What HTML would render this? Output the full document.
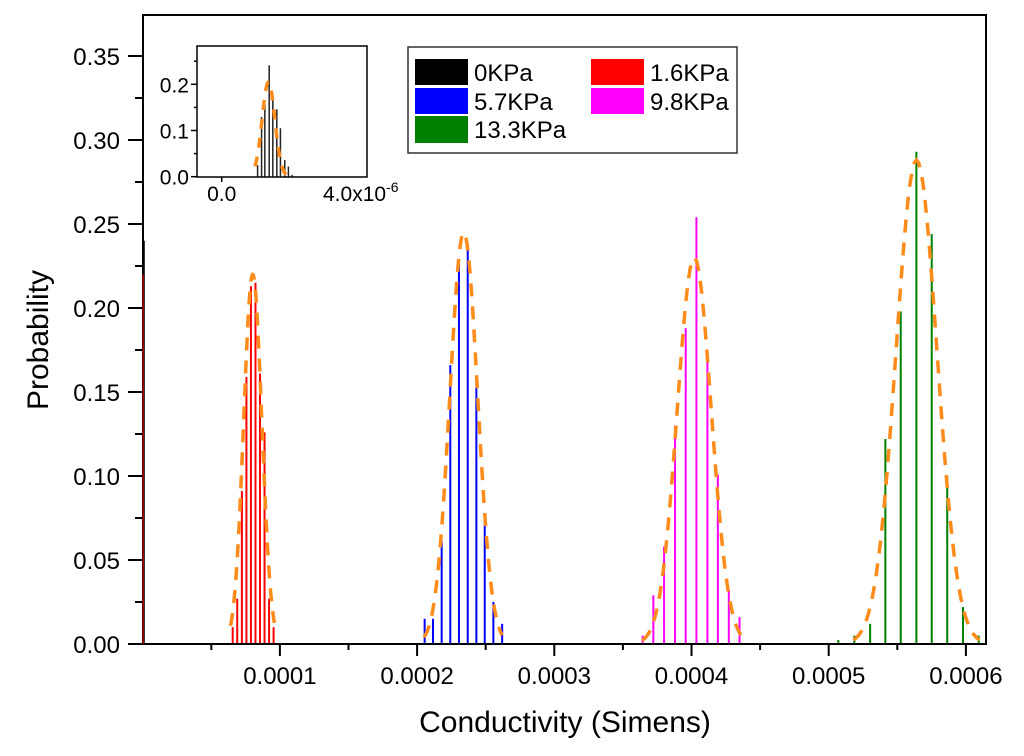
<!DOCTYPE html>
<html><head><meta charset="utf-8"><style>
html,body{margin:0;padding:0;background:#fff;}
svg{display:block;font-family:"Liberation Sans",Arial,sans-serif;}
</style></head><body>
<svg id="chart" width="1024" height="756" viewBox="0 0 1024 756" xmlns="http://www.w3.org/2000/svg">
<rect x="0" y="0" width="1024" height="756" fill="#fff"/>
<g id="marks"></g>
<g id="inset"></g>
<rect x="143" y="15" width="843" height="629" fill="none" stroke="#000" stroke-width="2"/>
<g id="axes"></g>
<text x="565" y="732" font-size="30" text-anchor="middle">Conductivity (Simens)</text>
<text transform="translate(48,340) rotate(-90)" font-size="30" text-anchor="middle">Probability</text>
<g>
<rect x="408" y="47" width="329" height="106" fill="#fff" stroke="#333" stroke-width="1.5"/>
<g><rect x="415" y="59" width="53" height="26" fill="#000"/><text x="474" y="81" font-size="24">0KPa</text></g>
<g><rect x="415" y="88" width="53" height="26" fill="#0000ff"/><text x="474" y="110" font-size="24">5.7KPa</text></g>
<g><rect x="415" y="116" width="53" height="27" fill="#008000"/><text x="474" y="138" font-size="24">13.3KPa</text></g>
<g><rect x="591" y="59" width="53" height="26" fill="#ff0000"/><text x="650" y="81" font-size="24">1.6KPa</text></g>
<g><rect x="591" y="88" width="53" height="26" fill="#ff00ff"/><text x="650" y="110" font-size="24">9.8KPa</text></g>
</g>
<g id="front"></g>
</svg>
<script>
// ---- data (conductivity in 1e-6 S, probability) ----
const redX = [65.6,68.9,72.3,75.6,78.9,82.2,85.5,88.8,92.1,95.4];
const redY = [0.010,0.027,0.091,0.159,0.213,0.215,0.161,0.126,0.027,0.010];
const blueX = [205.5,211.6,217.9,224.2,230.5,236.9,243.2,249.3,255.6,262.0];
const blueY = [0.015,0.015,0.061,0.166,0.227,0.235,0.159,0.077,0.025,0.012];
const magX = [364.4,372.2,380.0,388.0,395.8,403.6,411.6,419.2,427.2,435.0];
const magY = [0.005,0.029,0.058,0.130,0.188,0.254,0.171,0.101,0.032,0.016];
const greenX = [507.0,518.7,530.2,541.3,552.5,563.9,575.1,586.4,597.9,609.3];
const greenY = [0.0024,0.005,0.012,0.122,0.198,0.293,0.244,0.100,0.022,0.005];
const zeroX = [0.6, 0.3];
const zeroY = [0.240, 0.220];
// gaussian fit parameters [amplitude, center, sigma, from, to]
const redFit = [0.220, 80.2, 6.6, 64, 96];
const blueFit = [0.245, 234.0, 10.1, 205, 262];
const magFit = [0.230, 402.0, 12.4, 364, 436];
const greenFit = [0.288, 564.0, 14.9, 518, 610];
// inset data (1e-6 S)
const insetX = [0.99,1.10,1.19,1.31,1.41,1.52,1.62,1.74,1.84,1.94];
const insetY = [0.025,0.129,0.157,0.241,0.172,0.146,0.105,0.036,0.022,0.004];
const insetFit = [0.205, 1.29, 0.176, 0.92, 1.92];
const xTicks = [100,200,300,400,500,600];
const xTickLabels = ["0.0001","0.0002","0.0003","0.0004","0.0005","0.0006"];
const yTicks = [0,0.05,0.10,0.15,0.20,0.25,0.30,0.35];
const yTickLabels = ["0.00","0.05","0.10","0.15","0.20","0.25","0.30","0.35"];

const NS="http://www.w3.org/2000/svg";
const X = v => 142.7 + v*1.372;
const Y = p => 644 - p*1680;
const IX = v => 221.7 + v*36.25;
const IY = p => 176.7 - p*462;
function mk(tag, attrs, parent){const e=document.createElementNS(NS,tag);for(const k in attrs)e.setAttribute(k,attrs[k]);parent.appendChild(e);return e;}
const marks=document.getElementById('marks');
const front=document.getElementById('front');
function bars(xs,ys,color,name,fx,fy,parent,w){
  xs.forEach((x,i)=>{
    const l=mk('line',{x1:fx(x),x2:fx(x),y1:fy(0),y2:fy(ys[i]),stroke:color,'stroke-width':w},parent);
    
    
  });
}
function fit(p,name,fx,fy,parent,w,dash){
  let d='';
  for(let i=0;i<=60;i++){const x=p[3]+(p[4]-p[3])*i/60;const y=p[0]*Math.exp(-0.5*Math.pow((x-p[1])/p[2],2));d+=(i?'L':'M')+fx(x).toFixed(2)+' '+fy(y).toFixed(2);}
  const e=mk('path',{d:d,fill:'none',stroke:'#ff8c1a','stroke-width':w,'stroke-dasharray':dash},parent);
  
  
}
bars(redX,redY,'#ff0000','red-1-6kpa',X,Y,marks,2);
bars(blueX,blueY,'#0000ff','blue-5-7kpa',X,Y,marks,2);
bars(magX,magY,'#ff00ff','magenta-9-8kpa',X,Y,marks,2);
bars(greenX,greenY,'#008000','green-13-3kpa',X,Y,marks,2);
fit(redFit,'red-fit-curve',X,Y,marks,3.5,'13 10');
fit(blueFit,'blue-fit-curve',X,Y,marks,3.5,'13 10');
fit(magFit,'magenta-fit-curve',X,Y,marks,3.5,'13 10');
fit(greenFit,'green-fit-curve',X,Y,marks,3.5,'13 10');
bars([zeroX[0]],[zeroY[0]],'#000','black-0kpa',X,Y,front,2.5);
bars([zeroX[1]],[zeroY[1]],'#ff0000','red-near-zero',X,Y,front,1);

const axes=document.getElementById('axes');
xTicks.forEach((t,i)=>{
  mk('line',{x1:X(t),x2:X(t),y1:644,y2:656,stroke:'#000','stroke-width':2},axes);
  mk('line',{x1:X(t-50),x2:X(t-50),y1:644,y2:650,stroke:'#000','stroke-width':2},axes);
  const tx=mk('text',{x:X(t),y:684,'font-size':24,'text-anchor':'middle'},axes);
  tx.textContent=xTickLabels[i];
  
  
});
yTicks.forEach((t,i)=>{
  mk('line',{x1:128,x2:143,y1:Y(t),y2:Y(t),stroke:'#000','stroke-width':2},axes);
  if(i<yTicks.length-1) mk('line',{x1:135,x2:143,y1:Y(t+0.025),y2:Y(t+0.025),stroke:'#000','stroke-width':2},axes);
  const tx=mk('text',{x:120,y:Y(t)+9,'font-size':24,'text-anchor':'end'},axes);
  tx.textContent=yTickLabels[i];
  
  
});

// inset
const ins=document.getElementById('inset');


mk('rect',{x:197,y:46,width:170,height:131,fill:'#fff'},ins);
bars(insetX,insetY,'#222','inset-0kpa',IX,IY,ins,1.5);
fit(insetFit,'inset-fit-curve',IX,IY,ins,3.5,'10 9');
mk('rect',{x:197,y:46,width:170,height:131,fill:'none',stroke:'#000','stroke-width':1.5},ins);
[0,0.1,0.2].forEach((t,i)=>{
  mk('line',{x1:191,x2:197,y1:IY(t),y2:IY(t),stroke:'#000','stroke-width':1.5},ins);
  const tx=mk('text',{x:189,y:IY(t)+8,'font-size':21,'text-anchor':'end'},ins);
  tx.textContent=['0.0','0.1','0.2'][i];
  
  
});
[0.05,0.15,0.25].forEach(t=>mk('line',{x1:194,x2:197,y1:IY(t),y2:IY(t),stroke:'#000','stroke-width':1.5},ins));
mk('line',{x1:IX(0),x2:IX(0),y1:177,y2:182,stroke:'#000','stroke-width':1.5},ins);
let t1=mk('text',{x:IX(0),y:201,'font-size':21,'text-anchor':'middle'},ins);t1.textContent='0.0';


let t2=mk('text',{x:323,y:201,'font-size':21},ins);t2.innerHTML='4.0x10<tspan dy="-9" font-size="14">-6</tspan>';


</script>
</body></html>
